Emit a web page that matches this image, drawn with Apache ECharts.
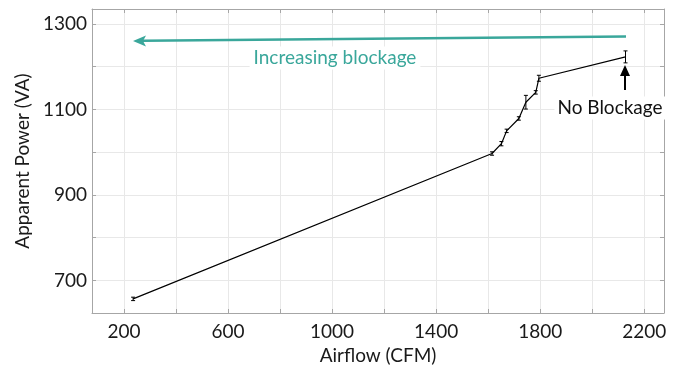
<!DOCTYPE html>
<html>
<head>
<meta charset="utf-8">
<script src="https://cdn.jsdelivr.net/npm/echarts@6/dist/echarts.min.js"></script>
<style>
  html, body { margin: 0; padding: 0; background: #fff; }
  #main { width: 674px; height: 370px; }
</style>
</head>
<body>
<div id="main"></div>
<script>
var airflow = [235, 1615, 1651, 1671, 1718, 1745, 1783, 1795, 2128];
var power = [657, 997, 1020, 1050, 1079, 1117, 1140, 1173, 1223];
var powerErr = [4, 4, 5, 4, 4, 16, 4, 7, 14];

var xTicks = [200, 400, 600, 800, 1000, 1200, 1400, 1600, 1800, 2000, 2200];
var xLabels = [200, 600, 1000, 1400, 1800, 2200];
var yTicks = [700, 800, 900, 1000, 1100, 1200, 1300];
var yLabels = [700, 900, 1100, 1300];

var chartDom = document.getElementById('main');
var myChart = echarts.init(chartDom);

var points = airflow.map(function (x, i) { return [x, power[i]]; });
var errData = airflow.map(function (x, i) { return [x, power[i] - powerErr[i], power[i] + powerErr[i]]; });

var font = 'Lato, "Open Sans", sans-serif';
var teal = '#3aa79b';
var plain = function (v) { return String(v); };

var xAxisBase = {
  type: 'value',
  min: 77,
  max: 2276,
  axisLine: { show: true, onZero: false, lineStyle: { color: '#a6a6a6' } },
  axisTick: { show: true, inside: true, length: 4, customValues: xTicks, lineStyle: { color: '#a6a6a6' } },
  splitLine: { show: true, lineStyle: { color: '#e8e8e8' } }
};
var yAxisBase = {
  type: 'value',
  min: 624,
  max: 1335,
  axisLine: { show: true, onZero: false, lineStyle: { color: '#a6a6a6' } },
  axisTick: { show: true, inside: true, length: 4, customValues: yTicks, lineStyle: { color: '#a6a6a6' } },
  splitLine: { show: true, lineStyle: { color: '#e8e8e8' } }
};

var option = {
  animation: false,
  grid: { left: 92, top: 9, right: 10, bottom: 57 },
  xAxis: [
    Object.assign({}, xAxisBase, {
      position: 'bottom',
      name: 'Airflow (CFM)',
      nameLocation: 'middle',
      nameGap: 33,
      nameTextStyle: { fontFamily: font, fontSize: 19, color: '#1a1a1a' },
      axisLabel: { customValues: xLabels, formatter: plain, margin: 9, fontFamily: font, fontSize: 19, color: '#1a1a1a' }
    }),
    Object.assign({}, xAxisBase, {
      position: 'top',
      axisLabel: { show: false },
      splitLine: { show: false }
    })
  ],
  yAxis: [
    Object.assign({}, yAxisBase, {
      position: 'left',
      name: 'Apparent Power (VA)',
      nameLocation: 'middle',
      nameGap: 57,
      nameTextStyle: { fontFamily: font, fontSize: 19, color: '#1a1a1a' },
      axisLabel: { customValues: yLabels, formatter: plain, margin: 5, fontFamily: font, fontSize: 19, color: '#1a1a1a' }
    }),
    Object.assign({}, yAxisBase, {
      position: 'right',
      axisLabel: { show: false },
      splitLine: { show: false }
    })
  ],
  series: [
    {
      type: 'line',
      data: points,
      symbol: 'none',
      lineStyle: { color: '#000', width: 1.2 },
      z: 3
    },
    {
      type: 'custom',
      data: errData,
      renderItem: function (params, api) {
        var x = api.value(0);
        var lo = api.coord([x, api.value(1)]);
        var hi = api.coord([x, api.value(2)]);
        var cw = 2;
        var style = { stroke: '#000', lineWidth: 1 };
        return {
          type: 'group',
          children: [
            { type: 'line', shape: { x1: lo[0], y1: lo[1], x2: hi[0], y2: hi[1] }, style: style },
            { type: 'line', shape: { x1: lo[0] - cw, y1: lo[1], x2: lo[0] + cw, y2: lo[1] }, style: style },
            { type: 'line', shape: { x1: hi[0] - cw, y1: hi[1], x2: hi[0] + cw, y2: hi[1] }, style: style }
          ]
        };
      },
      z: 4
    }
  ],
  graphic: [
    // teal arrow: increasing blockage
    { type: 'line', z: 100, shape: { x1: 626, y1: 36.5, x2: 143, y2: 40.8 }, style: { stroke: teal, lineWidth: 2.6 } },
    { type: 'polygon', z: 100, shape: { points: [[133, 41], [146, 35.5], [143, 41], [146, 46.5]] }, style: { fill: teal } },
    { type: 'text', z: 100, x: 335, y: 58, style: { text: 'Increasing blockage', fill: teal, font: '19px ' + font, align: 'center', verticalAlign: 'middle', backgroundColor: '#fff', padding: [2, 4] } },
    // black arrow: no blockage
    { type: 'line', z: 100, shape: { x1: 625, y1: 90, x2: 625, y2: 74 }, style: { stroke: '#000', lineWidth: 2 } },
    { type: 'polygon', z: 100, shape: { points: [[625, 65], [620, 76], [630, 76]] }, style: { fill: '#000' } },
    { type: 'text', z: 100, x: 610, y: 108, style: { text: 'No Blockage', fill: '#111', font: '19px ' + font, align: 'center', verticalAlign: 'middle', backgroundColor: '#fff', padding: [2, 3] } }
  ]
};

option && myChart.setOption(option);
</script>
</body>
</html>
